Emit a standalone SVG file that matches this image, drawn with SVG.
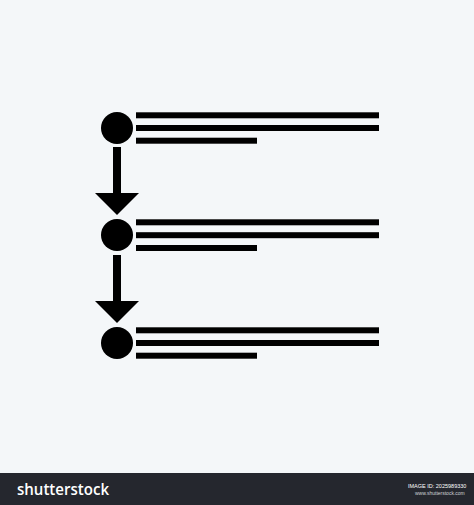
<svg xmlns="http://www.w3.org/2000/svg" width="474" height="505" viewBox="0 0 474 505">
  <style>
    .fg { fill: #000; }
    .bar { fill: #000; }
  </style>
  <defs>
    <g id="arrow">
      <rect x="113" y="0" width="8" height="47" class="fg"/>
      <polygon points="95,46 139,46 117,68" class="fg"/>
    </g>
  </defs>
  <rect x="0" y="0" width="474" height="505" fill="#f4f7f9"/>
  <g id="connectors">
    <use href="#arrow" transform="translate(0,147)"/>
    <use href="#arrow" transform="translate(0,255)"/>
  </g>
  <g id="step1">
    <circle cx="117" cy="128" r="16" class="fg"/>
    <rect x="136" y="112.3" width="243" height="6" class="bar"/>
    <rect x="136" y="125" width="243" height="6" class="bar"/>
    <rect x="136" y="137.7" width="121" height="6" class="bar"/>
  </g>
  <g id="step2">
    <circle cx="117" cy="235" r="16" class="fg"/>
    <rect x="136" y="219.3" width="243" height="6" class="bar"/>
    <rect x="136" y="232.2" width="243" height="6" class="bar"/>
    <rect x="136" y="245" width="121" height="6" class="bar"/>
  </g>
  <g id="step3">
    <circle cx="117" cy="343" r="16" class="fg"/>
    <rect x="136" y="327.3" width="243" height="6" class="bar"/>
    <rect x="136" y="340" width="243" height="6" class="bar"/>
    <rect x="136" y="352.7" width="121" height="6" class="bar"/>
  </g>
  <g id="footer">
    <rect x="0" y="473" width="474" height="32" fill="#25272e"/>
    <text x="17" y="495" font-family="Open Sans, Liberation Sans, sans-serif" font-size="16" font-weight="600" fill="#ffffff" textLength="92" lengthAdjust="spacingAndGlyphs">shutterstock</text>
    <text x="408" y="488" font-family="Liberation Sans, sans-serif" font-size="5.5" fill="#ffffff">IMAGE ID: 2025989330</text>
    <text x="415" y="495" font-family="Liberation Sans, sans-serif" font-size="5" fill="#cfd2d6">www.shutterstock.com</text>
  </g>
</svg>
